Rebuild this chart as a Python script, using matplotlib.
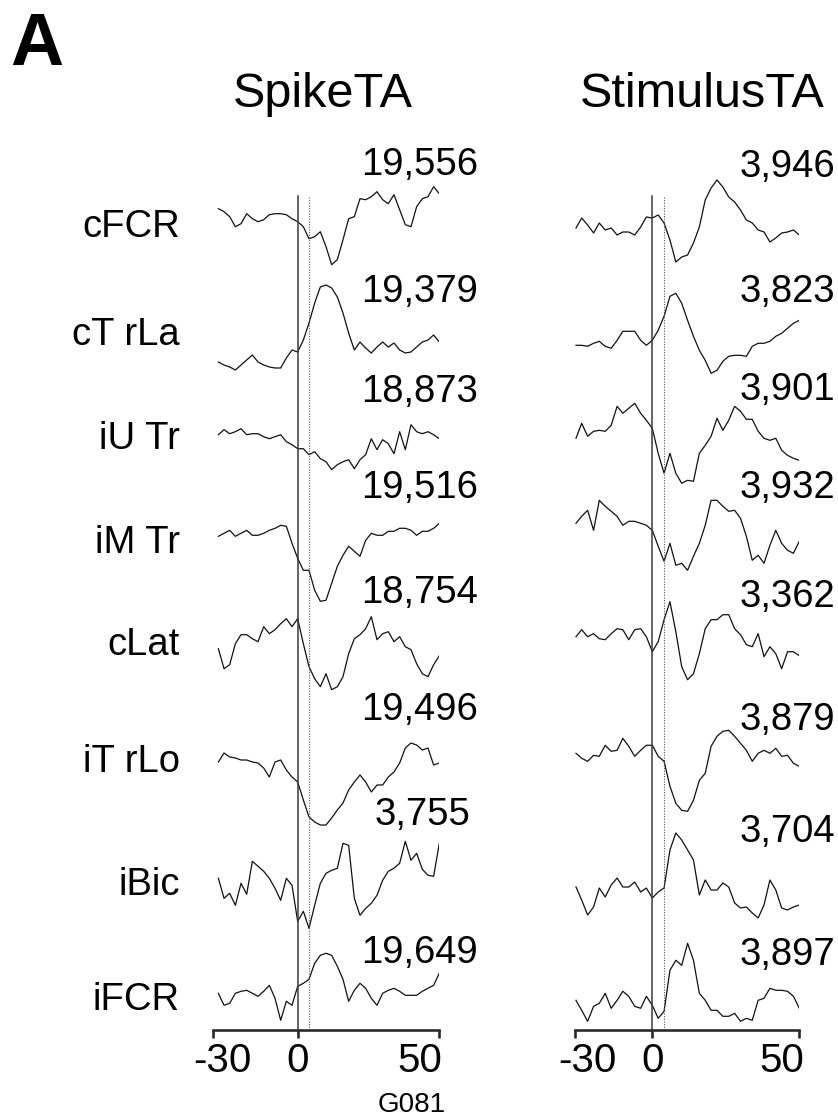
import numpy as np
import matplotlib
matplotlib.use('Agg')
import matplotlib.pyplot as plt
from matplotlib.transforms import blended_transform_factory, ScaledTranslation

plt.rcParams['font.family'] = ['Liberation Sans', 'DejaVu Sans']

# muscles, trial counts
muscles = ['cFCR', 'cT rLa', 'iU Tr', 'iM Tr', 'cLat', 'iT rLo', 'iBic', 'iFCR']
spike_counts = ['19,556', '19,379', '18,873', '19,516', '18,754', '19,496', '3,755', '19,649']
stim_counts = ['3,946', '3,823', '3,901', '3,932', '3,362', '3,879', '3,704', '3,897']

# time axes (ms)
spike_t = np.arange(-28, 51, 2)
stim_t = np.concatenate([[-29.5, -27.3, -25.0, -22.7, -20.5, -18.2, -15.9,
                          -13.6, -11.4, -9.1, -6.8, -4.5, -2.3],
                         np.arange(0, 51, 2)])

# spike-triggered averages (arbitrary units)
spike_cFCR = [18, 15, 10, 0, 3, 13, 8, 5, 7, 12, 13, 13, 12, 8, 5, 0, -12, -10, -5, -20,
              -38, -33, -13, 8, 10, 28, 27, 30, 35, 27, 23, 32, 17, 2, 0, 20, 28, 30, 40, 33]
spike_cTrLa = [-2, -5, -7, -10, -5, 0, 5, -2, -5, -7, -8, -8, 2, 10, 8, 20, 37, 57, 73, 75,
               72, 63, 47, 27, 10, 18, 12, 7, 13, 18, 13, 17, 10, 7, 8, 13, 18, 20, 25, 18]
spike_iUTr = [2, 7, 3, 5, 8, 2, 3, 3, 0, -2, 0, 2, -5, -8, -12, -12, -18, -15, -22, -25,
              -33, -28, -25, -23, -32, -23, -18, -2, -13, -3, -7, -17, 5, -13, 12, 5, 3, 5, 2, -2]
spike_iMTr = [-3, 0, 3, -3, 0, 3, -2, -2, 0, 3, 5, 8, 7, -10, -25, -37, -37, -57, -68, -67,
              -50, -33, -22, -13, -18, -23, -7, 0, -2, -2, 2, 2, 5, 5, 3, -2, 2, 2, 5, 10]
spike_cLat = [-2, -22, -18, 3, 12, 12, 8, 5, 20, 13, 17, 23, 28, 20, 28, 3, -20, -32, -40, -27,
              -43, -40, -30, -7, 8, 12, 18, 30, 7, 13, 15, 5, 10, 0, -3, -17, -27, -30, -18, -9]
spike_iTrLo = [-2, 7, 3, 2, 0, 0, -2, -3, -8, -17, -2, 0, -10, -17, -22, -40, -57, -62, -65, -65,
               -58, -50, -43, -30, -22, -15, -22, -32, -25, -25, -17, -12, -3, 12, 17, 15, 10, 12, -5, -3]
spike_iBic = [5, -15, -10, -22, 0, -11, 22, 17, 12, 5, -5, -17, 5, -2, -38, -28, -45, -22, 0, 10,
              13, 15, 40, 38, -15, -32, -25, -20, -12, 3, 12, 15, 20, 42, 23, 30, 14, 8, 7, 40]
spike_iFCR = [0, -12, -10, 0, 2, 3, 0, -3, 2, 8, -5, -27, -8, -12, 7, 10, 14, 30, 38, 40,
              38, 27, 14, -8, 3, 10, 5, -5, -12, 0, 3, 5, 2, -2, -2, -2, 2, 5, 8, 20]

# stimulus-triggered averages (arbitrary units)
stim_cFCR = [2, 12, 5, -3, 7, 0, 2, -5, -2, -2, -5, 3, 13, 12, 15, 7, -10, -32, -27, -25,
             -13, 3, 30, 42, 50, 43, 33, 28, 20, 10, 7, 0, -2, -12, -8, -3, -2, 0, -5]
stim_cTrLa = [-2, -2, -3, 0, 2, -3, -5, 3, 12, 12, 12, 3, -2, 3, 13, 27, 47, 50, 40, 23,
              7, -7, -17, -30, -27, -18, -13, -12, -12, -13, -3, 0, 0, 2, 7, 10, 15, 20, 23]
stim_iUTr = [-5, 10, -3, 2, 3, 2, 8, 27, 20, 25, 30, 20, 13, 5, -20, -40, -20, -40, -50, -47,
             -48, -20, -12, -3, 15, 3, 13, 27, 22, 14, 14, 2, -5, -7, -5, -17, -22, -25, -27]
stim_iMTr = [0, 7, 13, -7, 23, 17, 12, 7, -2, 2, 2, 0, -2, -7, -23, -38, -20, -42, -40, -47,
             -33, -20, -2, 23, 23, 17, 12, 13, 5, -13, -37, -32, -40, -22, -7, -20, -27, -30, -18]
stim_cLat = [0, 7, 0, 3, -2, -3, 3, 8, 7, -3, 7, 8, 0, -15, -5, 17, 35, 5, -30, -43,
             -37, -17, 8, 17, 17, 22, 22, 8, 2, -8, -10, 3, -20, -10, -17, -32, -15, -15, -19]
stim_iTrLo = [0, -5, -8, -2, -3, 8, 2, 3, 15, 7, -3, 3, 8, 8, -3, -8, -33, -50, -57, -58,
              -47, -27, -20, 7, 17, 22, 23, 17, 10, 3, -8, 0, 3, 0, 5, -3, -2, -10, -13]
stim_iBic = [3, -10, -25, -17, 2, -7, 5, 12, 3, 3, 8, -2, 2, -8, -2, 2, 40, 57, 50, 40,
             30, -5, 10, 0, 0, 7, 3, -13, -18, -17, -23, -28, -15, 10, 0, -18, -20, -17, -15]
stim_iFCR = [3, -7, -18, -3, 0, 10, -5, 3, 12, 7, -3, -5, 7, -2, -15, -8, 33, 43, 38, 60,
             43, 10, 3, -7, -7, -13, -13, -10, -18, -15, -17, 3, 5, 15, 13, 13, 12, 7, -5]

spike_traces = [spike_cFCR, spike_cTrLa, spike_iUTr, spike_iMTr,
                spike_cLat, spike_iTrLo, spike_iBic, spike_iFCR]
stim_traces = [stim_cFCR, stim_cTrLa, stim_iUTr, stim_iMTr,
               stim_cLat, stim_iTrLo, stim_iBic, stim_iFCR]

xticks = [-30, 0, 50]
delay_ms = 4

# ---- layout (pixels) ----
W, H = 838, 1119
AX_BOTTOM = 1030          # y of the time axis
AX_TOP = 150
spike_rows = [226.7, 360, 436.7, 533.3, 646.7, 760, 883.3, 993.3]
stim_rows = [230, 343.3, 433.3, 523.3, 636.7, 753.3, 890, 1003.3]
label_base = [237, 345, 449, 553, 655, 772, 895, 1010]
spike_cnt_base = [175, 302, 402, 498, 603, 720, 825, 963]
spike_cnt_right = [478, 478, 478, 478, 478, 478, 470, 478]
stim_cnt_base = [177, 302, 400, 498, 607, 730, 842, 965]
LINE_TOP = 196

# the stimulus panel uses a compressed pre-stimulus segment
PRE_RATIO = 0.88


def stim_fwd(t):
    t = np.asarray(t, dtype=float)
    return np.where(t < 0, t * PRE_RATIO, t)


def stim_inv(x):
    x = np.asarray(x, dtype=float)
    return np.where(x < 0, x / PRE_RATIO, x)


fig = plt.figure(figsize=(W / 100, H / 100), dpi=100)


def put(x, y, s, **kw):
    fig.text(x / W, 1 - y / H, s, **kw)


def make_panel(x0, x1):
    ax = fig.add_axes([x0 / W, 1 - AX_BOTTOM / H, (x1 - x0) / W, (AX_BOTTOM - AX_TOP) / H])
    ax.set_ylim(0, AX_BOTTOM - AX_TOP)
    ax.patch.set_visible(False)
    for s in ['top', 'right', 'left']:
        ax.spines[s].set_visible(False)
    ax.spines['bottom'].set_linewidth(1.9)
    ax.spines['bottom'].set_color('#2a2a2a')
    ax.set_yticks([])
    return ax


ax_spike = make_panel(212.7, 439.3)
ax_spike.set_xlim(-30, 50)

ax_stim = make_panel(574.7, 799.3)
ax_stim.set_xscale('function', functions=(stim_fwd, stim_inv))
ax_stim.set_xlim(-30, 50)

tick_shift = {
    ax_spike: [10, 0, -19],
    ax_stim: [13, 0, -17],
}

for ax, t, traces, rows in [(ax_spike, spike_t, spike_traces, spike_rows),
                             (ax_stim, stim_t, stim_traces, stim_rows)]:
    for tr, row in zip(traces, rows):
        ax.plot(t, (AX_BOTTOM - row) + np.asarray(tr), color='#111111', lw=0.9)
    ax.plot([0, 0], [0, AX_BOTTOM - LINE_TOP], color='#3a3a3a', lw=1.1)
    ax.plot([delay_ms, delay_ms], [0, AX_BOTTOM - LINE_TOP], color='#555555',
            lw=0.8, linestyle=(0, (1, 1.4)))
    ax.set_xticks(xticks)
    ax.set_xticklabels([])
    ax.tick_params(axis='x', direction='out', length=6, width=1.9, color='#2a2a2a')
    trans = blended_transform_factory(ax.transData, fig.transFigure)
    for tk, dx in zip(xticks, tick_shift[ax]):
        off = ScaledTranslation(dx / 100, 0, fig.dpi_scale_trans)
        ax.text(tk, 1 - 1072 / H, str(tk), transform=trans + off, ha='center',
                va='baseline', fontsize=29, color='black')

# titles and panel letter
put(10, 65, 'A', fontsize=53, fontweight='bold', va='baseline', ha='left')
put(322.5, 107, 'SpikeTA', fontsize=35, va='baseline', ha='center')
put(702.5, 107, 'StimulusTA', fontsize=35, va='baseline', ha='center')

for name, yb in zip(muscles, label_base):
    put(180, yb, name, fontsize=27.5, va='baseline', ha='right')

for s, yb, xr in zip(spike_counts, spike_cnt_base, spike_cnt_right):
    put(xr, yb, s, fontsize=27.5, va='baseline', ha='right')

for s, yb in zip(stim_counts, stim_cnt_base):
    put(835, yb, s, fontsize=27.5, va='baseline', ha='right')

put(412, 1112, 'G081', fontsize=20, va='baseline', ha='center')

fig.savefig('out.png', dpi=100)
